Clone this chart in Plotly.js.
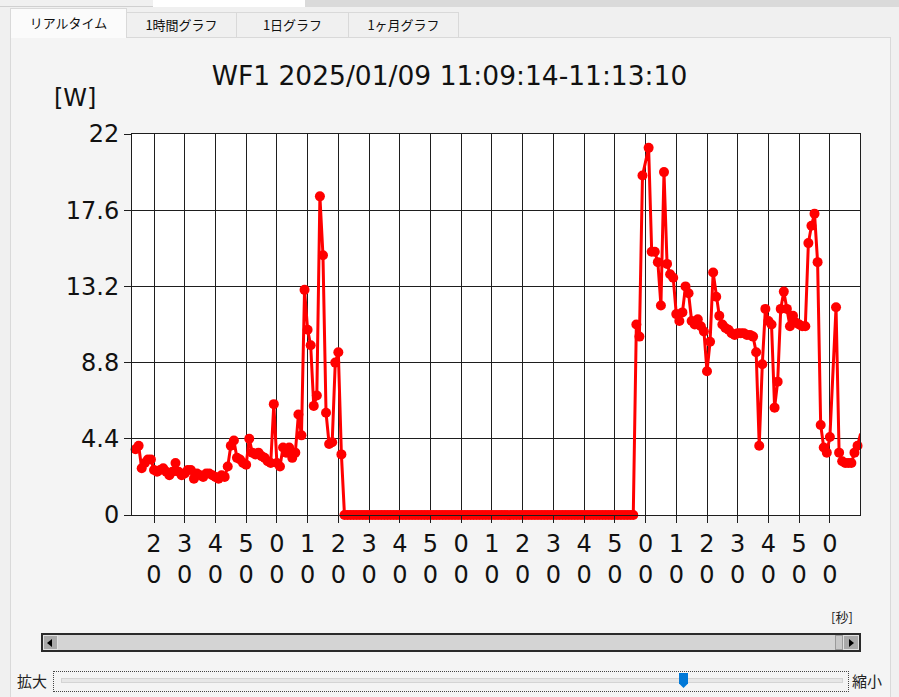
<!DOCTYPE html>
<html>
<head>
<meta charset="utf-8">
<script src="https://cdn.plot.ly/plotly-3.0.1.min.js"></script>
<style>
  html,body{margin:0;padding:0;}
  body{width:899px;height:697px;overflow:hidden;background:#f0f0f0;position:relative;font-family:"Noto Sans CJK JP","DejaVu Sans",sans-serif;}
  .abs{position:absolute;box-sizing:border-box;}
  .tab{position:absolute;box-sizing:border-box;border:1px solid #d9d9d9;border-bottom:none;background:#f0f0f0;font-size:13px;color:#111;text-align:center;}
  #chart{position:absolute;left:0;top:0;width:899px;height:697px;}
</style>
</head>
<body>
<!-- window frame pieces -->
<div class="abs" style="left:0;top:0;width:153px;height:7px;background:#f0f0f0;border-bottom:1px solid #d0d0d0;"></div>
<div class="abs" style="left:153px;top:0;width:152px;height:7px;background:#ffffff;"></div>
<div class="abs" style="left:305px;top:0;width:594px;height:7px;background:#dadada;"></div>
<!-- tab panel -->
<div class="abs" style="left:10px;top:37px;width:881px;height:662px;background:#f4f4f4;border:1px solid #d9d9d9;"></div>
<div class="tab" style="left:10px;top:8px;width:117px;height:30px;background:#fbfbfb;line-height:28px;z-index:2;">リアルタイム</div>
<div class="tab" style="left:126px;top:12px;width:111px;height:25px;line-height:24px;">1時間グラフ</div>
<div class="tab" style="left:236px;top:12px;width:113px;height:25px;line-height:24px;">1日グラフ</div>
<div class="tab" style="left:348px;top:12px;width:111px;height:25px;line-height:24px;">1ヶ月グラフ</div>

<div id="chart"></div>

<!-- scrollbar -->
<div class="abs" style="left:41px;top:633px;width:820px;height:19px;background:#d4d4d4;border:2px solid #2a2a2a;"></div>
<div class="abs" style="left:43px;top:635px;width:15px;height:15px;background:#a9a9a9;border:1px solid #e0e0e0;"></div>
<div class="abs" style="left:47px;top:639px;width:0;height:0;border-top:4px solid transparent;border-bottom:4px solid transparent;border-right:5px solid #000;"></div>
<div class="abs" style="left:835px;top:635px;width:8px;height:15px;background:#c8c8c8;border:1px solid #9a9a9a;"></div>
<div class="abs" style="left:843px;top:635px;width:16px;height:15px;background:#a9a9a9;border:1px solid #e0e0e0;"></div>
<div class="abs" style="left:849px;top:639px;width:0;height:0;border-top:4px solid transparent;border-bottom:4px solid transparent;border-left:5px solid #000;"></div>

<!-- zoom slider -->
<div class="abs" style="left:17px;top:671px;font-size:15px;line-height:20px;color:#222;">拡大</div>
<div class="abs" style="left:852px;top:671px;font-size:15px;line-height:20px;color:#222;">縮小</div>
<div class="abs" style="left:53px;top:671px;width:796px;height:21px;border:1px dotted #444;"></div>
<div class="abs" style="left:61px;top:678px;width:782px;height:5px;background:#e7e7e7;border:1px solid #d4d4d4;"></div>
<div class="abs" style="left:679px;top:673px;width:9px;height:15px;background:#0078d7;clip-path:polygon(0 0,100% 0,100% 70%,50% 100%,0 70%);"></div>

<script>
// time in seconds after 11:09:00 on 2025/01/09
var times = [
  14,15,16,17,18,19,20,21,22,23,
  24,25,26,27,28,29,30,31,32,33,
  34,35,36,37,38,39,40,41,42,43,
  44,45,46,47,48,49,50,51,52,53,
  54,55,56,57,58,59,60,61,62,63,
  64,65,66,67,68,69,70,71,72,73,
  74,75,76,77,78,79,80,81,
  82,83,84,85,86,87,88,89,90,91,
  92,93,94,95,96,97,98,99,100,101,
  102,103,104,105,106,107,108,109,110,111,
  112,113,114,115,116,117,118,119,120,121,
  122,123,124,125,126,127,128,129,130,131,
  132,133,134,135,136,137,138,139,140,141,
  142,143,144,145,146,147,148,149,150,151,
  152,153,154,155,156,157,158,159,160,161,
  162,163,164,165,166,167,168,169,170,171,
  172,173,174,175,176,
  177,178,179,
  181,182,183,184,185,186,187,188,189,190,
  191,192,193,194,195,196,197,198,199,200,
  201,202,203,204,205,206,207,208,209,210,
  211,212,213,214,215,216,217,218,219,220,
  221,222,223,224,225,226,227,228,229,230,
  231,232,233,234,235,236,237,238,239,240,
  242,243,244,245,246,247,248,249,250
];
var watts = [
  3.8,4.0,2.7,3.0,3.2,3.2,2.6,2.5,2.6,2.7,
  2.5,2.3,2.5,3.0,2.5,2.3,2.4,2.6,2.6,2.1,
  2.4,2.3,2.2,2.4,2.4,2.3,2.2,2.1,2.3,2.2,
  2.8,4.0,4.3,3.3,3.2,3.0,2.9,4.4,3.6,3.5,
  3.6,3.4,3.3,3.1,3.0,6.4,3.0,2.8,3.9,3.6,
  3.9,3.3,3.6,5.8,4.6,13.0,10.7,9.8,6.3,6.9,
  18.4,15.0,5.9,4.1,4.2,8.8,9.4,3.5,
  0,0,0,0,0,0,0,0,0,0,
  0,0,0,0,0,0,0,0,0,0,
  0,0,0,0,0,0,0,0,0,0,
  0,0,0,0,0,0,0,0,0,0,
  0,0,0,0,0,0,0,0,0,0,
  0,0,0,0,0,0,0,0,0,0,
  0,0,0,0,0,0,0,0,0,0,
  0,0,0,0,0,0,0,0,0,0,
  0,0,0,0,0,0,0,0,0,0,
  0,0,0,0,0,
  11.0,10.3,19.6,
  21.2,15.2,15.2,14.6,12.1,19.8,14.5,13.9,13.7,11.6,
  11.2,11.7,13.2,12.8,11.2,11.0,11.3,10.9,10.6,8.3,
  10.0,14.0,12.6,11.5,11.0,10.8,10.7,10.5,10.4,10.5,
  10.5,10.5,10.4,10.4,10.3,9.4,4.0,8.7,11.9,11.2,
  11.0,6.2,7.7,11.9,12.9,11.9,10.9,11.5,11.1,11.0,
  10.9,10.9,15.7,16.7,17.4,14.6,5.2,3.9,3.6,4.5,
  12.0,3.6,3.1,3.0,3.0,3.0,3.6,4.0,4.7
];
var xTickSeconds = [20,30,40,50,60,70,80,90,100,110,120,130,140,150,160,170,180,190,200,210,220,230,240];
var xTickLabels = ["2<br>0","3<br>0","4<br>0","5<br>0","0<br>0","1<br>0","2<br>0","3<br>0","4<br>0","5<br>0",
                   "0<br>0","1<br>0","2<br>0","3<br>0","4<br>0","5<br>0","0<br>0","1<br>0","2<br>0","3<br>0",
                   "4<br>0","5<br>0","0<br>0"];
var yTickValues = [0,4.4,8.8,13.2,17.6,22];
var yTickLabels = ["0","4.4","8.8","13.2","17.6","22"];
var chartTitle = "WF1 2025/01/09 11:09:14-11:13:10";
var yUnit = "[W]";
var xUnit = "[秒]";

var font = "DejaVu Sans";
var trace = {
  x: times, y: watts, type: "scatter", mode: "lines+markers",
  line: {color: "#ff0000", width: 3},
  marker: {color: "#ff0000", size: 10},
  cliponaxis: false, hoverinfo: "x+y"
};
var W = 899, H = 697, L = 132, R = 39, T = 133.5, B = 182;
var layout = {
  width: W, height: H,
  margin: {l: L, r: R, t: T, b: B, pad: 0},
  paper_bgcolor: "rgba(0,0,0,0)",
  plot_bgcolor: "#ffffff",
  showlegend: false,
  title: {text: chartTitle, xref: "container", x: 0.5, xanchor: "center",
          yref: "container", y: 1 - 76 / H, yanchor: "middle",
          font: {family: font, size: 26.5, color: "#111"}},
  xaxis: {range: [12.84, 249.8], tickmode: "array", tickvals: xTickSeconds, ticktext: xTickLabels,
          showgrid: true, gridcolor: "#1e1e1e", gridwidth: 1, zeroline: false,
          ticks: "outside", ticklen: 7, tickwidth: 1, tickcolor: "#1e1e1e",
          showline: true, linecolor: "#1e1e1e", linewidth: 1, mirror: true,
          tickfont: {family: font, size: 24, color: "#111"}, fixedrange: true},
  yaxis: {range: [0, 22], tickmode: "array", tickvals: yTickValues, ticktext: yTickLabels,
          showgrid: true, gridcolor: "#1e1e1e", gridwidth: 1, zeroline: false,
          ticks: "outside", ticklen: 7, tickwidth: 1, tickcolor: "#1e1e1e",
          showline: true, linecolor: "#1e1e1e", linewidth: 1, mirror: true,
          tickfont: {family: font, size: 24, color: "#111"}, fixedrange: true},
  annotations: [
    {text: yUnit, xref: "paper", yref: "paper", x: (75 - L) / (W - L - R), y: (H - B - 97) / (H - T - B),
     xanchor: "center", yanchor: "middle", showarrow: false, font: {family: font, size: 24, color: "#111"}},
    {text: xUnit, xref: "paper", yref: "paper", x: (842 - L) / (W - L - R), y: (H - B - 617) / (H - T - B),
     xanchor: "center", yanchor: "middle", showarrow: false, font: {family: "Noto Sans CJK JP", size: 13, color: "#222"}}
  ]
};
Plotly.newPlot("chart", [trace], layout, {displayModeBar: false, staticPlot: true});
</script>
</body>
</html>
